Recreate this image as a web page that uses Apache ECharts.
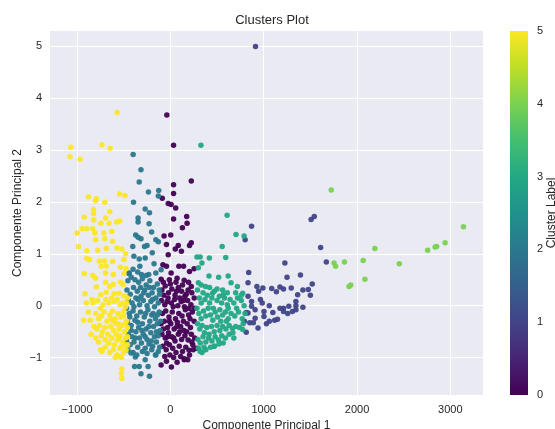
<!DOCTYPE html>
<html>
<head>
<meta charset="utf-8">
<script src="https://cdn.jsdelivr.net/npm/echarts@6/dist/echarts.min.js"></script>
<style>html,body{margin:0;padding:0;background:#fff}#c{width:555px;height:429px}</style>
</head>
<body>
<div id="c"></div>
<script>
// ---- data (Componente Principal 1, Componente Principal 2) per cluster ----
var xTicks = [-1000, 0, 1000, 2000, 3000];
var yTicks = [-1, 0, 1, 2, 3, 4, 5];
var cbTicks = [0, 1, 2, 3, 4, 5];
var clusterLabels = [0, 1, 2, 3, 4, 5];

var cluster0 = [
 [-38,3.67],[34,3.09],[224,2.40],[34,2.33],[34,2.16],[-87,2.07],[-23,1.97],[8,1.95],[57,1.88],[175,1.72],
 [34,1.67],[179,1.59],[129,1.50],[-68,1.34],[4,1.36],[224,1.21],[205,1.16],[-42,1.18],[84,1.16],[53,1.09],
 [118,1.05],[-23,0.98],[-80,0.79],[-42,0.76],[91,0.76],[141,0.76],[254,0.71],[8,0.63],[205,0.66],[-99,0.51],
 [-11,0.50],[72,0.53],[148,0.49],[224,0.37],
 [-90,0.30],[-55,0.38],[-20,0.25],[15,0.32],[50,0.20],[85,0.35],[120,0.28],[155,0.18],[190,0.30],[230,0.25],[255,0.15],
 [-95,0.10],[-60,0.02],[-25,0.15],[10,0.05],[45,0.12],[80,0.00],[115,0.08],[150,-0.02],[185,0.10],[220,0.02],[260,-0.05],
 [-85,-0.15],[-50,-0.10],[-15,-0.22],[20,-0.12],[55,-0.25],[90,-0.15],[125,-0.20],[160,-0.08],[195,-0.18],[235,-0.12],
 [-100,-0.35],[-65,-0.30],[-30,-0.42],[5,-0.35],[40,-0.45],[75,-0.32],[110,-0.40],[145,-0.48],[180,-0.35],[215,-0.42],[255,-0.30],
 [-90,-0.55],[-55,-0.62],[-20,-0.52],[15,-0.60],[50,-0.68],[85,-0.55],[120,-0.65],[155,-0.58],[190,-0.66],[225,-0.55],[260,-0.62],
 [-80,-0.78],[-45,-0.85],[-10,-0.75],[25,-0.82],[60,-0.90],[95,-0.78],[130,-0.88],[165,-0.80],[200,-0.86],[240,-0.75],
 [-60,-0.98],[-5,-0.95],[35,-1.00],[110,-0.98],[150,-1.02],[205,-0.95],
 [-70,0.20],[30,-0.02],[100,-0.50],[170,0.22],[-40,-0.72],[65,0.28],[140,-0.30],[210,-0.25],[-10,-0.30],[245,-0.85],
 [-75,0.45],[0,0.42],[60,0.45],[130,0.40],[195,0.45],
 [-99,-1.14],[11,-1.18],[72,-1.09],[148,-1.04],[186,-1.04],[-42,-1.07],[281,-0.82],
 [-35,0.08],[70,-0.40],[175,-0.50],[-75,-0.45],[35,-0.62],[140,0.10],[230,-0.70],[-30,-0.60],[100,0.15],[200,-0.05]
];
var cluster1 = [
 [912,4.99],[870,1.53],[801,1.27],[1508,1.66],[1542,1.72],[1610,1.12],[1671,0.84],[1227,0.82],[1394,0.59],[1250,0.55],
 [1520,0.42],[839,0.64],[832,0.44],[927,0.37],[991,0.34],[946,0.28],[1086,0.33],[1174,0.36],[1212,0.32],[1295,0.34],
 [1420,0.30],[1478,0.31],[1364,0.21],[1500,0.20],[1136,0.27],[832,0.18],[870,0.08],[965,0.12],[984,0.05],[1060,0.00],
 [1174,-0.05],[1212,-0.05],[1269,-0.01],[1345,0.00],[1420,-0.03],[1345,0.08],[908,-0.08],[1003,-0.11],[1098,-0.13],[1212,-0.11],
 [1257,-0.15],[1307,-0.11],[1345,-0.08],[832,-0.14],[908,-0.24],[1003,-0.21],[1060,-0.30],[1117,-0.28],[1148,-0.26],[851,-0.33],
 [889,-0.33],[794,-0.30],[939,-0.43],[1029,-0.35],[813,-0.51],[813,-0.13],[870,-0.01]
];
var cluster2 = [
 [-399,2.91],[-315,2.62],[-334,2.38],[-235,2.19],[-125,2.22],[-129,2.11],[-395,1.99],[-270,1.86],[-224,1.79],[-346,1.69],
 [-346,1.61],[-228,1.58],[-372,1.36],[-346,1.32],[-315,1.29],[-201,1.42],[-156,1.27],[-129,1.23],[-403,1.14],[-277,1.14],
 [-250,1.16],[-391,0.95],[-334,0.90],[-270,0.92],[-175,0.81],[-194,1.02],[-441,0.63],[-327,0.76],[-232,0.60],[-156,0.63],[-99,0.69],
 [-455,0.48],[-420,0.55],[-380,0.50],[-340,0.45],[-300,0.52],[-260,0.40],[-220,0.48],[-180,0.35],[-140,0.42],[-120,0.30],
 [-465,0.30],[-430,0.22],[-395,0.35],[-355,0.28],[-315,0.18],[-275,0.30],[-235,0.20],[-195,0.25],[-155,0.15],[-115,0.22],
 [-450,0.10],[-410,0.05],[-370,0.15],[-330,0.02],[-290,0.10],[-250,0.00],[-210,0.08],[-170,-0.02],[-130,0.05],[-470,-0.05],
 [-440,-0.15],[-400,-0.10],[-360,-0.20],[-320,-0.12],[-280,-0.22],[-240,-0.08],[-200,-0.18],[-160,-0.25],[-120,-0.12],[-105,-0.30],
 [-460,-0.32],[-420,-0.38],[-380,-0.28],[-340,-0.42],[-300,-0.35],[-260,-0.45],[-220,-0.30],[-180,-0.40],[-140,-0.35],[-110,-0.48],
 [-450,-0.55],[-410,-0.60],[-370,-0.50],[-330,-0.62],[-290,-0.55],[-250,-0.65],[-210,-0.52],[-170,-0.60],[-130,-0.58],[-470,-0.68],
 [-430,-0.75],[-390,-0.70],[-350,-0.80],[-310,-0.72],[-270,-0.82],[-230,-0.74],[-190,-0.78],[-150,-0.70],[-115,-0.80],[-455,-0.85],
 [-400,-0.90],[-360,-0.95],[-300,-0.88],[-250,-0.92],[-200,-0.85],[-160,-0.95],[-130,-0.88],
 [-445,0.62],[-400,0.70],[-350,0.65],[-310,0.60],[-260,0.58],
 [-390,-0.02],[-350,-0.32],[-270,-0.60],[-190,0.12],[-230,-0.40],[-320,0.35],[-150,-0.50],[-420,-0.48],[-285,0.25],[-205,-0.68],
 [-376,-0.99],[-270,-1.04],[-384,-1.17],[-334,-1.17],[-239,-1.17],[-315,-1.31],[-224,-1.36],[-422,-0.91],[-156,-0.95],
 [-345,0.12],[-265,-0.15],[-185,-0.15],[-435,-0.22],[-305,-0.48],[-225,0.35],[-375,-0.62],[-140,-0.18]
];
var cluster3 = [
 [327,3.09],[608,1.74],[703,1.37],[790,1.34],[555,1.14],[593,0.93],[285,0.94],[319,0.94],[418,0.92],[338,0.82],
 [300,0.73],[414,0.57],[517,0.55],[619,0.57],[650,0.44],[300,0.44],[376,0.37],[718,0.37],[775,0.24],[452,0.24],[566,0.21],
 [290,0.30],[310,0.15],[330,0.05],[350,0.25],[370,0.12],[395,0.20],[420,0.05],[445,0.15],[470,0.28],[500,0.10],
 [525,0.18],[550,0.05],[580,0.15],[610,0.02],[640,0.12],[680,0.05],[720,0.15],[760,0.10],[790,0.00],
 [285,-0.05],[305,-0.15],[330,-0.25],[355,-0.10],[380,-0.20],[405,-0.05],[430,-0.18],[455,-0.28],[480,-0.12],[505,-0.22],
 [530,-0.08],[560,-0.18],[590,-0.12],[620,-0.25],[650,-0.15],[690,-0.20],[730,-0.12],[770,-0.25],[800,-0.15],
 [290,-0.35],[315,-0.45],[340,-0.38],[365,-0.52],[390,-0.42],[415,-0.55],[440,-0.40],[470,-0.50],[500,-0.38],[530,-0.48],
 [560,-0.40],[595,-0.45],[630,-0.38],[665,-0.44],[700,-0.40],[740,-0.42],[780,-0.35],
 [295,-0.65],[320,-0.72],[350,-0.60],[380,-0.70],[410,-0.62],[445,-0.68],[480,-0.60],[515,-0.66],[550,-0.58],[590,-0.62],
 [630,-0.55],[670,-0.52],
 [300,-0.82],[340,-0.90],[380,-0.85],[430,-0.80],[470,-0.78],[520,-0.74],
 [420,0.35],[500,0.32],[560,0.30],[610,0.25],[700,0.25],[760,0.20],[330,0.40],[460,-0.05],[540,-0.30],[620,-0.05],
 [710,-0.05],[360,-0.80],[600,-0.30],
 [319,-0.88],[471,-0.78],[566,-0.72],[680,-0.62],[775,-0.46]
];
var cluster4 = [
 [1724,2.23],[1754,0.82],[1770,0.76],[1865,0.84],[2066,0.87],[2191,1.10],[2085,0.51],[1914,0.37],[1933,0.40],
 [2453,0.81],[2757,1.07],[2837,1.13],[2853,1.14],[2944,1.21],[3141,1.52]
];
var cluster5 = [
 [-1067,3.05],[-1075,2.87],[-968,2.82],[-733,3.10],[-646,3.03],[-570,3.72],[-877,2.10],[-794,2.06],[-802,2.02],[-703,1.99],
 [-543,2.15],[-486,2.12],[-824,1.85],[-824,1.77],[-923,1.71],[-650,1.81],[-821,1.65],[-695,1.69],[-744,1.59],[-657,1.59],
 [-577,1.61],[-543,1.63],[-999,1.40],[-945,1.48],[-896,1.48],[-832,1.48],[-809,1.40],[-714,1.40],[-627,1.43],[-802,1.27],
 [-703,1.29],[-619,1.24],[-984,1.14],[-896,1.06],[-779,1.07],[-687,1.10],[-573,1.11],[-520,1.09],[-896,0.91],[-866,0.89],
 [-760,0.86],[-706,0.86],[-619,0.85],[-498,0.89],[-479,1.00],[-741,0.76],[-687,0.76],[-535,0.74],[-923,0.62],[-832,0.58],
 [-802,0.53],[-695,0.63],[-612,0.60],[-498,0.62],[-475,0.71],[-794,0.36],[-695,0.45],[-650,0.37],[-612,0.41],[-535,0.45],
 [-505,0.41],[-915,0.23],[-839,0.12],[-745,0.21],[-687,0.26],[-604,0.23],[-551,0.24],[-498,0.19],[-460,0.15],
 [-830,0.05],[-780,0.10],[-750,-0.05],[-720,0.02],[-690,0.12],[-660,0.05],[-630,0.15],[-600,0.08],[-570,0.12],[-540,0.02],
 [-510,0.05],[-480,-0.02],[-800,-0.15],[-770,-0.25],[-740,-0.20],[-710,-0.12],[-680,-0.30],[-650,-0.18],[-620,-0.10],[-590,-0.25],
 [-560,-0.15],[-530,-0.22],[-500,-0.10],[-470,-0.30],[-860,-0.28],[-820,-0.40],[-790,-0.45],[-760,-0.38],[-730,-0.50],[-700,-0.42],
 [-670,-0.55],[-640,-0.40],[-610,-0.48],[-580,-0.35],[-550,-0.45],[-520,-0.38],[-490,-0.50],[-460,-0.42],[-800,-0.62],[-770,-0.70],
 [-740,-0.58],[-700,-0.65],[-660,-0.72],[-630,-0.62],[-600,-0.75],[-570,-0.66],[-540,-0.58],[-510,-0.70],[-480,-0.62],[-460,-0.75],
 [-750,-0.85],[-700,-0.80],[-650,-0.90],[-610,-0.85],[-570,-0.95],[-540,-0.82],[-500,-0.90],[-475,-0.85],[-590,-1.0],[-540,-0.98],
 [-520,-1.22],[-525,-1.30],[-520,-1.40],[-930,-0.28],[-880,-0.12],[-850,-0.55],[-900,0.05],[-735,-0.88],[-500,-0.2],[-470,0.05],
 [-460,-0.60],[-490,-0.75],[-640,-0.25],[-610,-0.30],[-580,-0.55],[-550,-0.62],[-530,-0.80],[-560,-0.35],[-485,-0.35],
 [-733,-0.86],[-573,-0.96],[-524,-1.0]
];
var clusters = [cluster0, cluster1, cluster2, cluster3, cluster4, cluster5];
var clusterColors = ['#440154', '#414487', '#2a788e', '#22a884', '#7ad151', '#fde725'];

var txt = '#262626';
var font = 'Liberation Sans, Arial, sans-serif';

var series = clusters.map(function (d, i) {
  return {
    type: 'scatter', xAxisIndex: 0, yAxisIndex: 0,
    data: d, symbolSize: 5.5,
    itemStyle: { color: clusterColors[i], opacity: 0.95 },
    silent: true
  };
});
series.push({
  type: 'bar', xAxisIndex: 1, yAxisIndex: 1, data: [5], barWidth: '100%', silent: true,
  itemStyle: {
    color: new echarts.graphic.LinearGradient(0, 0, 0, 1, [
      { offset: 0, color: '#fde725' }, { offset: 0.1, color: '#bddf26' },
      { offset: 0.2, color: '#7ad151' }, { offset: 0.3, color: '#44bf70' },
      { offset: 0.4, color: '#22a884' }, { offset: 0.5, color: '#21918c' },
      { offset: 0.6, color: '#2a788e' }, { offset: 0.7, color: '#355f8d' },
      { offset: 0.8, color: '#414487' }, { offset: 0.9, color: '#482475' },
      { offset: 1, color: '#440154' }
    ])
  }
});

var chart = echarts.init(document.getElementById('c'), null, { renderer: 'canvas' });
chart.setOption({
  animation: false,
  backgroundColor: '#ffffff',
  title: {
    text: 'Clusters Plot', left: 267, top: 9, textAlign: 'center',
    textStyle: { fontFamily: font, fontSize: 13, fontWeight: 'normal', color: txt }
  },
  grid: [
    { left: 50, right: 72, top: 31, bottom: 34, show: true, backgroundColor: '#eaeaf2', borderWidth: 0,
      containLabel: false, outerBoundsMode: 'none' },
    { left: 510, width: 18, top: 31, bottom: 34, containLabel: false, outerBoundsMode: 'none' }
  ],
  xAxis: [
    {
      type: 'value', gridIndex: 0, min: -1290, max: 3350,
      name: 'Componente Principal 1', nameLocation: 'middle', nameGap: 25, nameMoveOverlap: false,
      nameTextStyle: { fontFamily: font, fontSize: 12, color: txt },
      axisLine: { show: false }, axisTick: { show: false, customValues: xTicks },
      axisLabel: { customValues: xTicks, fontFamily: font, fontSize: 11, color: txt, margin: 9,
        formatter: function (v) { return v < 0 ? '\u2212' + Math.abs(v) : String(v); } },
      splitLine: { show: true, lineStyle: { color: '#ffffff', width: 1 } }
    },
    {
      type: 'category', gridIndex: 1, data: [''], show: false
    }
  ],
  yAxis: [
    {
      type: 'value', gridIndex: 0, min: -1.72, max: 5.29,
      name: 'Componente Principal 2', nameLocation: 'middle', nameGap: 26, nameMoveOverlap: false,
      nameTextStyle: { fontFamily: font, fontSize: 12, color: txt },
      axisLine: { show: false }, axisTick: { show: false, customValues: yTicks },
      axisLabel: { customValues: yTicks, fontFamily: font, fontSize: 11, color: txt, margin: 8,
        formatter: function (v) { return v < 0 ? '\u2212' + Math.abs(v) : String(v); } },
      splitLine: { show: true, lineStyle: { color: '#ffffff', width: 1 } }
    },
    {
      type: 'value', gridIndex: 1, min: 0, max: 5, interval: 1, position: 'right',
      name: 'Cluster Label', nameLocation: 'middle', nameGap: 18, nameRotate: 90, nameMoveOverlap: false,
      nameTextStyle: { fontFamily: font, fontSize: 12, color: txt },
      axisLine: { show: false }, axisTick: { show: false },
      axisLabel: { fontFamily: font, fontSize: 11, color: txt, margin: 9 },
      splitLine: { show: false }
    }
  ],
  series: series
});
</script>
</body>
</html>
